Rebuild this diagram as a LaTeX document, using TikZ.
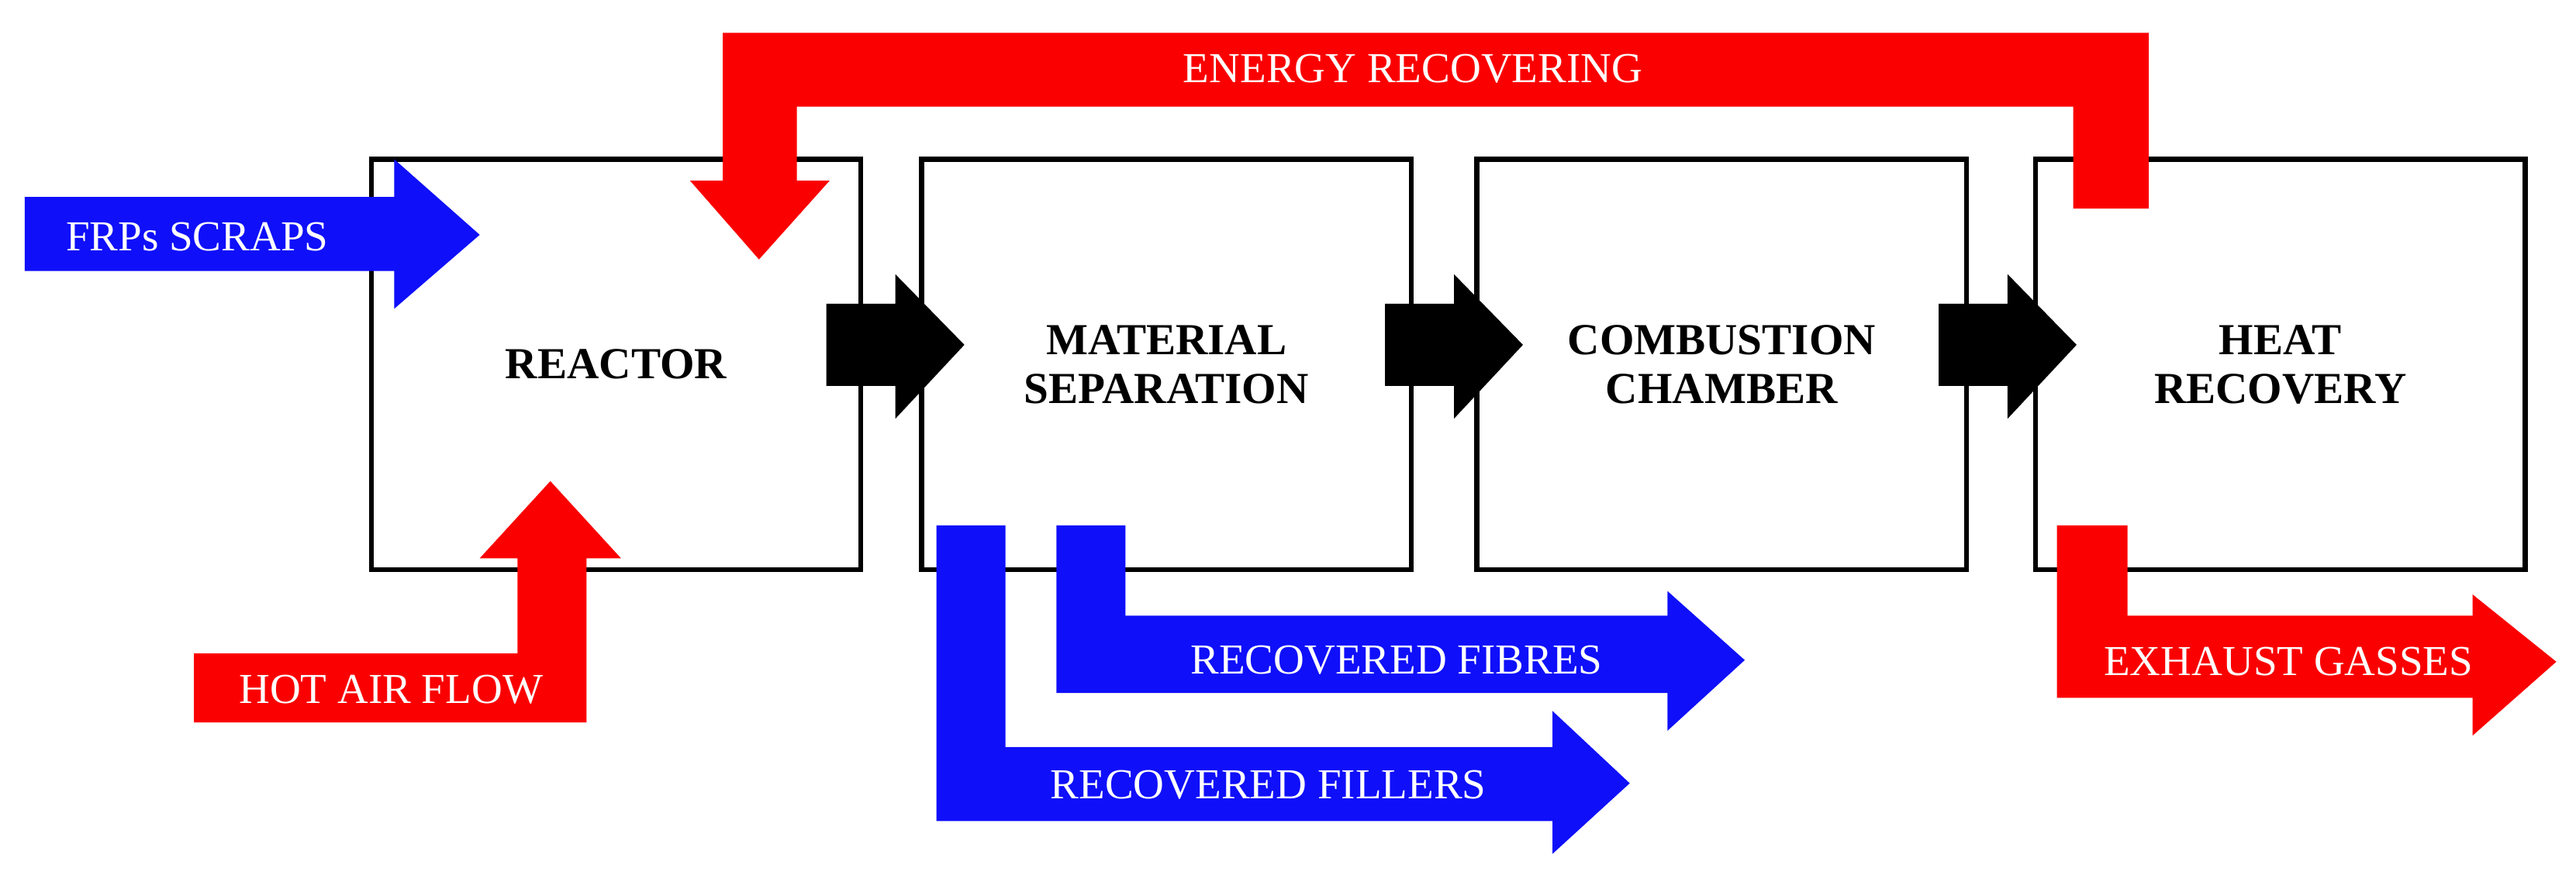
\documentclass[tikz,border=0pt]{standalone}
\usepackage{fontspec}
\setmainfont{Liberation Serif}
\begin{document}
\begin{tikzpicture}[x=1pt,y=-1pt,
 box/.style={draw=black,line width=3pt,fill=white,minimum width=298pt,minimum height=250pt,font=\bfseries\fontsize{27}{30}\selectfont,align=center},
 lab/.style={text=white,font=\fontsize{26}{28}\selectfont,inner sep=0pt}]
\useasboundingbox (0,0) rectangle (1568,537);
\definecolor{ared}{RGB}{250,0,0}
\definecolor{ablue}{RGB}{15,15,250}
\node[box] (r) at (375,222) {REACTOR};
\node[box] (m) at (710,222) {MATERIAL\\SEPARATION};
\node[box] (c) at (1048,222) {COMBUSTION\\CHAMBER};
\node[box] (h) at (1388,222) {HEAT\\RECOVERY};
% black arrows
\foreach \a in {503,843,1180}{
 \fill[black] (\a,185) -- (\a+42,185) -- (\a+42,167) -- (\a+84,210) -- (\a+42,255) -- (\a+42,235) -- (\a,235) -- cycle;}
% energy recovering
\fill[ared] (1308,127) -- (1262,127) -- (1262,65) -- (485,65) -- (485,110) -- (505,110) -- (462,158) -- (420,110) -- (440,110) -- (440,20) -- (1308,20) -- cycle;
\node[lab] (er) at (860,42) {ENERGY RECOVERING};
% FRPs scraps
\fill[ablue] (15,120) -- (240,120) -- (240,97) -- (292,143) -- (240,188) -- (240,165) -- (15,165) -- cycle;
\node[lab] (frp) at (120,144) {FRPs SCRAPS};
% hot air flow
\fill[ared] (118,398) -- (315,398) -- (315,340) -- (292,340) -- (335,293) -- (378,340) -- (357,340) -- (357,440) -- (118,440) -- cycle;
\node[lab] (hot) at (238,420) {HOT AIR FLOW};
% recovered fillers
\fill[ablue] (570,320) -- (612,320) -- (612,455) -- (945,455) -- (945,433) -- (992,477) -- (945,520) -- (945,500) -- (570,500) -- cycle;
\node[lab] (fil) at (772,478) {RECOVERED FILLERS};
% recovered fibres
\fill[ablue] (643,320) -- (685,320) -- (685,375) -- (1015,375) -- (1015,360) -- (1062,402) -- (1015,445) -- (1015,422) -- (643,422) -- cycle;
\node[lab] (fib) at (850,402) {RECOVERED FIBRES};
% exhaust
\fill[ared] (1252,320) -- (1295,320) -- (1295,375) -- (1505,375) -- (1505,362) -- (1556,403) -- (1505,448) -- (1505,425) -- (1252,425) -- cycle;
\node[lab] (ex) at (1393,403) {EXHAUST GASSES};
\end{tikzpicture}
\end{document}
